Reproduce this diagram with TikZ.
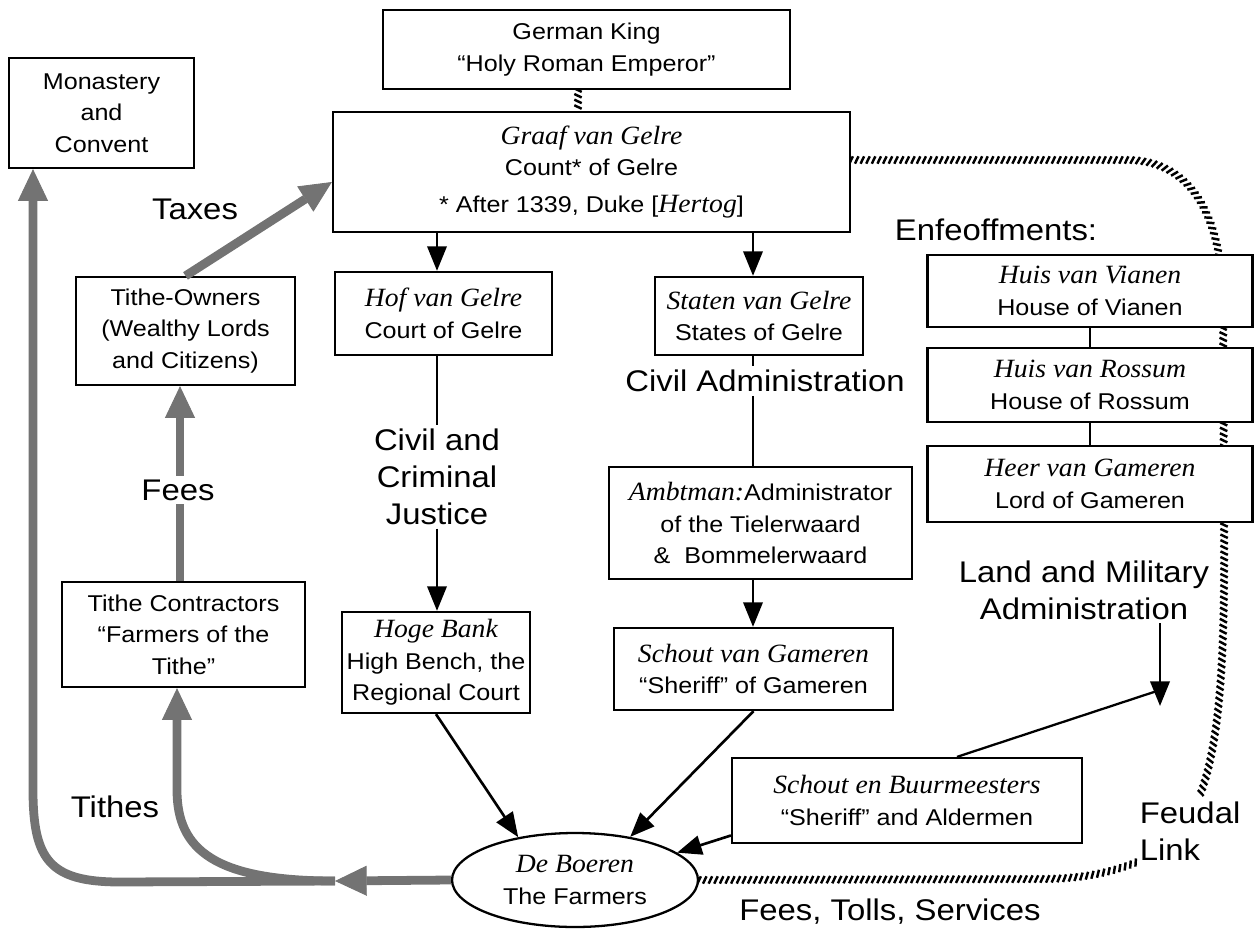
\documentclass[tikz,border=0pt]{standalone}
\usepackage{fontspec}
\setsansfont{Liberation Sans}[FakeStretch=1.1]
\newfontfamily\calfam{Liberation Serif}[FakeStretch=1.05]
\usetikzlibrary{arrows.meta,decorations.markings,shapes.geometric}
\pgfdeclarelayer{background}
\pgfsetlayers{background,main}
\newcommand\calf[1]{{\calfam\itshape\fontsize{15}{18}\selectfont #1}}
\begin{document}
\begin{tikzpicture}[x=0.02cm,y=-0.02cm,
 box/.style={draw,line width=1.3pt,fill=white,align=center,inner sep=2pt,font=\sffamily\fontsize{13}{18}\selectfont},
 lab/.style={align=center,inner sep=2pt,font=\sffamily\fontsize{17}{21}\selectfont},
 conn/.style={line width=1.3pt},
 barr/.style={line width=1.5pt,-{Triangle[width=11pt,length=14pt]}},
 gline/.style={draw=black!55,line width=5pt},
 garr/.style={gline,-{Triangle[width=17pt,length=18pt,line width=0.5pt]}},
 feudal/.style={decoration={markings,mark=between positions 0 and 1 step 3.2pt with {\draw[line width=1.4pt] (-1pt,-2.1pt) -- (1pt,2.1pt);}},postaction={decorate}}
]
\useasboundingbox (0,0) rectangle (1254,933);

% boxes
\node[box,minimum width=8.14cm,minimum height=1.58cm] (king) at (586.5,49.5) {German King\\“Holy Roman Emperor”};
\node[box,minimum width=10.34cm,minimum height=2.4cm] (graaf) at (591.5,172) {\calf{Graaf van Gelre}\\Count* of Gelre\\[3pt]* After 1339, Duke [\calf{Hertog}]};
\node[box,minimum width=3.7cm,minimum height=2.2cm] (mon) at (101.5,113) {Monastery\\and\\Convent};
\node[box,minimum width=4.38cm,minimum height=2.16cm] (town) at (185.5,331) {Tithe-Owners\\(Wealthy Lords\\and Citizens)};
\node[box,minimum width=4.86cm,minimum height=2.1cm] (tcon) at (183.5,634.5) {Tithe Contractors\\“Farmers of the\\Tithe”};
\node[box,minimum width=4.34cm,minimum height=1.66cm] (hof) at (443.5,313.5) {\calf{Hof van Gelre}\\Court of Gelre};
\node[box,minimum width=4.16cm,minimum height=1.56cm] (staten) at (759,316) {\calf{Staten van Gelre}\\States of Gelre};
\node[box,minimum width=3.76cm,minimum height=2.02cm] (hoge) at (436,662.5) {\calf{Hoge Bank}\\High Bench, the\\Regional Court};
\node[box,minimum width=6.06cm,minimum height=2.24cm] (ambt) at (760.5,523) {\calf{Ambtman:}Administrator\\of the Tielerwaard\\\&\ \ Bommelerwaard};
\node[box,minimum width=5.58cm,minimum height=1.64cm] (sgam) at (753.5,669) {\calf{Schout van Gameren}\\“Sheriff” of Gameren};
\node[box,minimum width=6.5cm,minimum height=1.44cm] (vianen) at (1090,291) {\calf{Huis van Vianen}\\House of Vianen};
\node[box,minimum width=6.5cm,minimum height=1.48cm] (rossum) at (1090,385) {\calf{Huis van Rossum}\\House of Rossum};
\node[box,minimum width=6.5cm,minimum height=1.52cm] (heer) at (1090,484) {\calf{Heer van Gameren}\\Lord of Gameren};
\node[box,minimum width=7.0cm,minimum height=1.7cm] (sbuur) at (907,800.5) {\calf{Schout en Buurmeesters}\\“Sheriff” and Aldermen};
\node[box,ellipse,minimum width=4.92cm,minimum height=1.88cm,inner sep=0pt] (boer) at (575,880) {\calf{De Boeren}\\The Farmers};

% labels
\node[lab] (taxes) at (195,209) {Taxes};
\node[lab] (fees) at (178,490) {Fees};
\node[lab] (tithes) at (115,807) {Tithes};
\node[lab] (cj) at (437,477) {Civil and\\Criminal\\Justice};
\node[lab] (ca) at (765,381) {Civil Administration};
\node[lab] (enf) at (996,230) {Enfeoffments:};
\node[lab] (lma) at (1084,590) {Land and Military\\Administration};
\node[lab,align=left,anchor=west] (feud) at (1136,831) {Feudal\\Link};
\node[lab] (fts) at (890,912) {Fees, Tolls, Services};

% helper coordinates
\coordinate (kx) at (578,100);
\coordinate (scol) at (753,400);
\coordinate (lx) at (33,500);
\coordinate (tx) at (177,790);
\coordinate (tj) at (335,881);
\coordinate (fx) at (180,500);
\coordinate (lcol) at (1160,650);
\coordinate (ltip) at (1160,706);
\coordinate (lstart) at (1160,690);
\coordinate (f1) at (1130,160);
\coordinate (f2) at (1200,795);
\coordinate (f3) at (1137,862);
\coordinate (f4) at (1040,879);

% black connectors
\draw[conn] (vianen.south) -- (rossum.north);
\draw[conn] (rossum.south) -- (heer.north);
\draw[barr] (graaf.south -| cj) -- (hof.north -| cj);
\draw[conn] (hof.south -| cj) -- (cj.north);
\draw[barr] (cj.south) -- (hoge.north -| cj);
\draw[barr] (graaf.south -| scol) -- (staten.north -| scol);
\draw[conn] (staten.south -| scol) -- (ca.north -| scol);
\draw[conn] (ca.south -| scol) -- (ambt.north -| scol);
\draw[barr] (ambt.south -| scol) -- (sgam.north -| scol);
\draw[barr] (hoge.south) -- (boer.143);
\draw[barr] (sgam.south) -- (boer.38);
\draw[barr] ([yshift=-0.7cm]sbuur.west) -- (boer.15);
\draw[barr] (lma.south -| lcol) -- (ltip);
\draw[conn] (lstart) -- ([xshift=1cm]sbuur.north);

% grey flows
\draw[garr] (boer.west) -- (tj);
\draw[garr,line join=round] (tj) -- (120,882) .. controls (50,882) and (33,860) .. (33,790) -- (lx |- mon.south);
\draw[garr] (tj) .. controls (215,881) and (177,850) .. (tx) -- (tx |- tcon.south);
\draw[gline] (tcon.north -| fx) -- (fees.south -| fx);
\draw[garr] (fees.north -| fx) -- (town.south -| fx);
\draw[garr] (town.north) -- ([yshift=-0.2cm]graaf.west);

% feudal links
\begin{pgfonlayer}{background}
\path[feudal] (king.south -| kx) -- (graaf.north -| kx);
\path[feudal] (graaf.east |- f1) -- (f1) .. controls (1185,162) and (1218,205) .. (1223,290) -- (1224,520) .. controls (1225,650) and (1221,740) .. (f2);
\path[feudal] (boer.east) -- (f4) .. controls (1080,879) and (1110,873) .. (f3);
\end{pgfonlayer}
\end{tikzpicture}
\end{document}
